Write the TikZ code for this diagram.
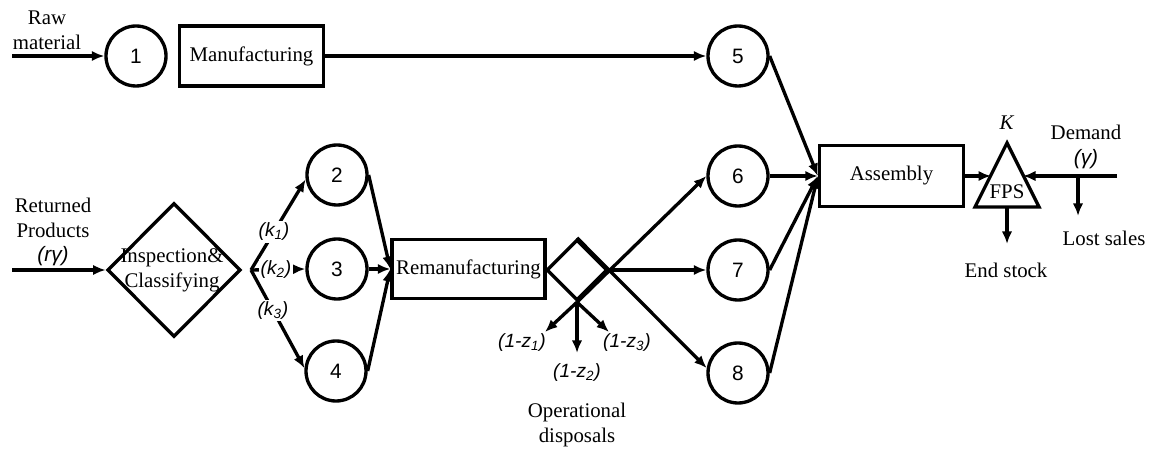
\documentclass[tikz,border=0pt]{standalone}
\usepackage{fontspec}
\setmainfont{Liberation Serif}
\setsansfont{Liberation Sans}
\usetikzlibrary{arrows.meta,shapes.geometric}

\begin{document}
\begin{tikzpicture}[x=0.6pt,y=-0.6pt,
  line width=2pt,
  txt/.style={font=\fontsize{12.5}{14.8}\selectfont, align=center, inner sep=0pt},
  lbl/.style={font=\sffamily\itshape\fontsize{11.5}{13}\selectfont, inner sep=1pt},
  num/.style={circle, draw, minimum size=36pt, inner sep=0pt,
              font=\sffamily\fontsize{12.5}{14}\selectfont},
  procbox/.style={draw, rectangle, inner sep=0pt, font=\fontsize{12.5}{14.8}\selectfont},
  dmd/.style={draw, diamond, inner sep=0pt},
  arr/.style={-{Latex[length=7.5pt,width=6.2pt]}},
]
\useasboundingbox (0,0) rectangle (1159,450);

% stock points and process blocks
\node[num] (c1) at (136,56) {1};
\node[procbox, minimum width=86.4pt, minimum height=36pt] (mfg) at (251.5,56) {Manufacturing};
\node[num] (c5) at (738,56) {5};
\node[num] (c2) at (337,175) {2};
\node[num] (c3) at (337,269) {3};
\node[num] (c4) at (336,371) {4};
\node[num] (c6) at (738,176) {6};
\node[num] (c7) at (738,270) {7};
\node[num] (c8) at (738,373) {8};
\node[dmd, minimum width=80pt, minimum height=80.4pt] (insp) at (174,270) {};
\node[txt] (insptxt) at (172,270) {Inspection\&\\Classifying};
\node[procbox, minimum width=91.8pt, minimum height=35.4pt] (reman) at (468.5,269) {Remanufacturing};
\node[dmd, minimum width=36.6pt, minimum height=36.6pt] (sep) at (577,270) {};
\node[procbox, minimum width=86.4pt, minimum height=36.6pt] (asm) at (891.5,176) {Assembly};

% final product stock
\coordinate (fpsTop) at (1007,143);
\coordinate (fpsBL) at (975,207);
\coordinate (fpsBR) at (1039,207);
\draw (fpsTop) -- (fpsBL) -- (fpsBR) -- cycle;
\node[txt] (fps) at (1007,192) {FPS};
\coordinate (fpsW) at (991,176);
\coordinate (fpsE) at (1023,176);
\coordinate (fpsS) at (1007,207);

% texts
\node[txt] (raw) at (47,30) {Raw\\material};
\node[txt] (ret) at (53,232) {Returned\\Products\\{\sffamily\itshape (rγ)}};
\node[txt] (kcap) at (1007,123) {\textit{K}};
\node[txt] (dem) at (1086,147) {Demand\\{\sffamily\itshape (γ)}};
\node[txt] (lost) at (1104,238) {Lost sales};
\node[txt] (endst) at (1006,270) {End stock};
\node[txt] (opd) at (577,425) {Operational\\disposals};
\node[lbl] (z1) at (522,343) {(1-z\textsubscript{1})};
\node[lbl] (z2) at (577,373) {(1-z\textsubscript{2})};
\node[lbl] (z3) at (627,343) {(1-z\textsubscript{3})};

% free ends
\coordinate (rawIn) at (12,56);
\coordinate (retIn) at (12,270);
\coordinate (split) at (251,270);
\coordinate (z1end) at (545,332);
\coordinate (z2end) at (577,353);
\coordinate (z3end) at (609,332);
\coordinate (demIn) at (1117,176);
\coordinate (lostTap) at (1078,176);
\coordinate (lostEnd) at (1078,216);
\coordinate (stockEnd) at (1007,244);

% flows
\draw[arr] (rawIn) -- (c1.west);
\draw[arr] (mfg.east) -- (c5.west);
\draw[arr] (c5.east) -- (asm.west);
\draw[arr] (c6.east) -- (asm.west);
\draw[arr] (c7.east) -- (asm.west);
\draw[arr] (c8.east) -- (asm.west);
\draw[arr] (retIn) -- (insp.west);
\draw[arr] (split) -- node[lbl, fill=white, pos=0.42] (k1) {(k\textsubscript{1})} (c2.188);
\draw[arr] (split) -- node[lbl, fill=white, pos=0.46] (k2) {(k\textsubscript{2})} (c3.west);
\draw[arr] (split) -- node[lbl, fill=white, pos=0.41] (k3) {(k\textsubscript{3})} (c4.175);
\draw[arr] (c2.east) -- (reman.west);
\draw[arr] (c3.east) -- (reman.west);
\draw[arr] (c4.east) -- (reman.west);
\draw[arr] (sep.south) -- (c6.west);
\draw[arr] (sep.south) -- (z1end);
\draw[arr] (sep.south) -- (z2end);
\draw[arr] (sep.south) -- (z3end);
\draw[arr] (sep.north) -- (c8.171);
\draw[arr] (sep.east) -- (c7.west);
\draw[arr] (asm.east) -- (fpsW);
\draw[arr] (demIn) -- (fpsE);
\draw[arr] (lostTap) -- (lostEnd);
\draw[arr] (fpsS) -- (stockEnd);
\end{tikzpicture}
\end{document}
